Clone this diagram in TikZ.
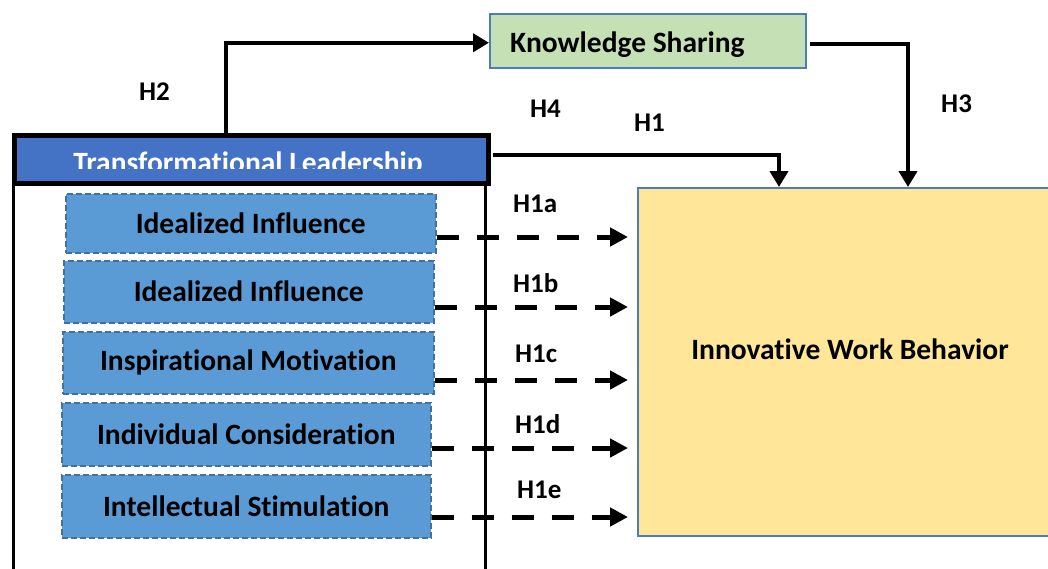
\documentclass[tikz,border=0pt]{standalone}
\usepackage{fontspec}
\setmainfont{Carlito}[Ligatures=NoCommon]
\usetikzlibrary{arrows.meta}
\definecolor{hdrblue}{HTML}{4472C4}
\definecolor{subblue}{HTML}{5B9BD5}
\definecolor{subedge}{HTML}{41719C}
\definecolor{ksgreen}{HTML}{C5E0B4}
\definecolor{iwbyellow}{HTML}{FFE699}
\definecolor{boxedge}{HTML}{4A7EBB}
\begin{document}
\begin{tikzpicture}[x=1pt,y=-1pt,
  boxtext/.style={font=\fontsize{29.5}{34}\selectfont\bfseries},
  subbox/.style={draw=subedge, dash pattern=on 6pt off 3pt, line width=1.5pt, fill=subblue,
    anchor=north west, inner sep=0pt, boxtext, text=black},
  hlabel/.style={font=\fontsize{27}{31}\selectfont\bfseries, anchor=base west, inner sep=0pt},
  arr/.style={line width=4pt, -{Triangle[length=16pt,width=18pt]}},
  darr/.style={line width=5pt, dash pattern=on 22pt off 18pt, -{Triangle[length=18pt,width=18pt]}}
]
\useasboundingbox (0,0) rectangle (1048,568);

% Knowledge Sharing
\node[draw=boxedge, line width=1.5pt, fill=ksgreen, minimum width=316, minimum height=54,
  anchor=north west, inner sep=0pt] (ks) at (489,13) {};
\node[boxtext, anchor=base west, inner sep=0pt] (kstext) at (510,52) {Knowledge Sharing};

% Innovative Work Behavior
\node[draw=boxedge, line width=1.5pt, fill=iwbyellow, minimum width=425, minimum height=348,
  anchor=north west, inner sep=0pt] (iwb) at (637,187) {};
\node[boxtext, anchor=base, inner sep=0pt] (iwbtext) at (850,359) {Innovative Work Behavior};

% Transformational Leadership header
\node[draw=black, line width=5pt, fill=hdrblue, minimum width=474, minimum height=48,
  anchor=north west, inner sep=0pt] (hdr) at (12,132.5) {};
\begin{scope}
  \clip (15,135) rectangle (483,168);
  \node[boxtext, text=white, anchor=base, inner sep=0pt] (hdrtext) at (248,172) {Transformational Leadership};
\end{scope}
\coordinate (fl) at (13,572);
\coordinate (fr) at (485,572);
\draw[line width=3pt] (hdr.south west -| fl) -- (fl);
\draw[line width=3pt] (hdr.south east -| fr) -- (fr);

% Dimension boxes
\node[subbox, minimum width=370, minimum height=59] (s1) at (65,193) {Idealized Influence};
\node[subbox, minimum width=370, minimum height=62] (s2) at (63,260) {Idealized Influence};
\node[subbox, minimum width=371, minimum height=62] (s3) at (62,331) {Inspirational Motivation};
\node[subbox, minimum width=369, minimum height=63] (s4) at (61,402) {Individual Consideration};
\node[subbox, minimum width=369, minimum height=63] (s5) at (61,474) {Intellectual Stimulation};

% row levels of dashed arrows
\coordinate (y1) at (0,237);
\coordinate (y2) at (0,307);
\coordinate (y3) at (0,380);
\coordinate (y4) at (0,448);
\coordinate (y5) at (0,517);
\coordinate (tipx) at (628,0);
\draw[darr] (s1.east |- y1) -- (tipx |- y1);
\draw[darr] (s2.east |- y2) -- (tipx |- y2);
\draw[darr] (s3.east |- y3) -- (tipx |- y3);
\draw[darr] (s4.east |- y4) -- (tipx |- y4);
\draw[darr] (s5.east |- y5) -- (tipx |- y5);

% solid arrows
\coordinate (h2x) at (226,0);
\coordinate (h3x) at (908,0);
\coordinate (h1x) at (779,0);
\coordinate (h1y) at (0,155);
\draw[arr] ([yshift=-2.5pt]hdr.north -| h2x) |- ([yshift=-2pt]ks.west);
\draw[arr] ([xshift=3pt,yshift=-3pt]ks.east) -| (iwb.north -| h3x);
\draw[arr] ([xshift=2pt]hdr.east |- h1y) -| (iwb.north -| h1x);

% labels
\node[hlabel] (lh2) at (139,100) {H2};
\node[hlabel] (lh4) at (530,117) {H4};
\node[hlabel] (lh1) at (634,131) {H1};
\node[hlabel] (lh3) at (941,112) {H3};
\node[hlabel] (lh1a) at (513,212) {H1a};
\node[hlabel] (lh1b) at (513,292) {H1b};
\node[hlabel] (lh1c) at (515,362) {H1c};
\node[hlabel] (lh1d) at (515,433) {H1d};
\node[hlabel] (lh1e) at (517,498) {H1e};
\end{tikzpicture}
\end{document}
